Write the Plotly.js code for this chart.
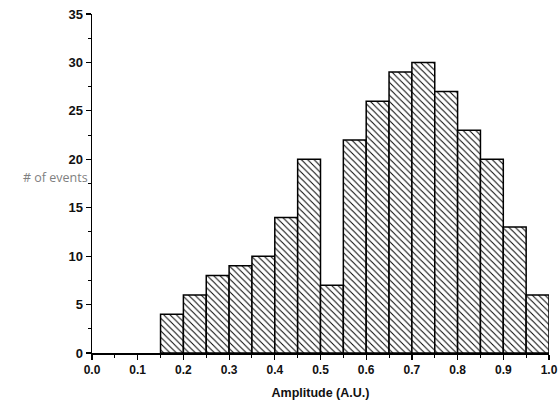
<!DOCTYPE html>
<html>
<head>
<meta charset="utf-8">
<script src="https://cdn.plot.ly/plotly-3.0.1.min.js"></script>
<style>html,body{margin:0;padding:0;background:#fff;}#chart{width:560px;height:408px;}</style>
</head>
<body>
<div id="chart"></div>
<script>
// Histogram data (bin width 0.05)
var binStarts = [0.15, 0.20, 0.25, 0.30, 0.35, 0.40, 0.45, 0.50, 0.55, 0.60, 0.65, 0.70, 0.75, 0.80, 0.85, 0.90, 0.95];
var counts    = [4, 6, 8, 9, 10, 14, 20, 7, 22, 26, 29, 30, 27, 23, 20, 13, 6];
var binWidth = 0.05;
var xTickVals = [0.0, 0.1, 0.2, 0.3, 0.4, 0.5, 0.6, 0.7, 0.8, 0.9, 1.0];
var xTickText = ["0.0", "0.1", "0.2", "0.3", "0.4", "0.5", "0.6", "0.7", "0.8", "0.9", "1.0"];
var yTickVals = [0, 5, 10, 15, 20, 25, 30, 35];

var centers = binStarts.map(function (s) { return s + binWidth / 2; });

var trace = {
  type: 'bar',
  x: centers,
  y: counts,
  width: binWidth,
  marker: {
    color: '#ffffff',
    line: { color: '#000000', width: 1.5 },
    pattern: { shape: '\\', fgcolor: '#000000', bgcolor: '#ffffff', size: 4.5, solidity: 0.22 }
  },
  hoverinfo: 'skip'
};

var layout = {
  width: 560,
  height: 408,
  margin: { l: 92, r: 11, t: 14, b: 55 },
  paper_bgcolor: '#ffffff',
  plot_bgcolor: '#ffffff',
  showlegend: false,
  bargap: 0,
  xaxis: {
    range: [0, 1.0],
    tickvals: xTickVals,
    ticktext: xTickText,
    ticks: 'outside',
    ticklen: 5,
    tickwidth: 1.2,
    tickcolor: '#000',
    showline: true,
    linecolor: '#000',
    linewidth: 1.5,
    showgrid: false,
    zeroline: false,
    minor: { dtick: 0.05, ticks: 'outside', ticklen: 3, tickcolor: '#000', tickwidth: 1 },
    tickfont: { family: 'Liberation Sans, Arial, sans-serif', size: 12, color: '#111', weight: 'bold' },
    title: { text: 'Amplitude (A.U.)', font: { family: 'Liberation Sans, Arial, sans-serif', size: 12.5, color: '#111', weight: 'bold' }, standoff: 12 }
  },
  yaxis: {
    range: [0, 35],
    tickvals: yTickVals,
    ticks: 'outside',
    ticklen: 5,
    tickwidth: 1.2,
    tickcolor: '#000',
    showline: true,
    linecolor: '#000',
    linewidth: 1.5,
    showgrid: false,
    zeroline: false,
    minor: { dtick: 2.5, ticks: 'outside', ticklen: 3, tickcolor: '#000', tickwidth: 1 },
    tickfont: { family: 'Liberation Sans Narrow, Arial Narrow, sans-serif', size: 13, color: '#111', weight: 'bold' }
  },
  annotations: [{
    text: '# of events',
    xref: 'paper', yref: 'paper',
    x: -0.004, y: 0.518,
    xanchor: 'right', yanchor: 'middle',
    showarrow: false,
    font: { family: 'Open Sans, Noto Sans, sans-serif', size: 12.5, color: '#7f7f7f' }
  }]
};

Plotly.newPlot('chart', [trace], layout, { displayModeBar: false, staticPlot: true });
</script>
</body>
</html>
